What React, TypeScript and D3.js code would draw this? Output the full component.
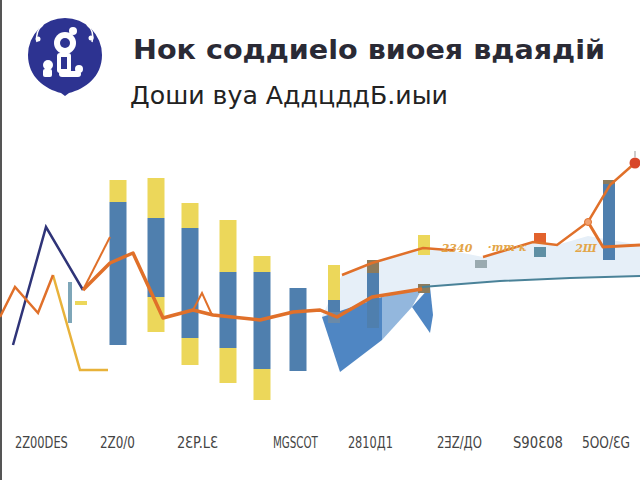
import React from "react";
import * as d3 from "d3";

// floating bars: yellow cap above, blue body, yellow cap below
const barX = [5.9, 7.8, 9.5, 11.4, 13.1, 14.9];
const capHigh = [120, 121, 108.5, 100, 82, 66];
const blueHigh = [109, 101, 96, 74, 74, 66];
const blueLow = [37.5, 61.5, 41, 36, 25.5, 24.5];
const capLow = [37.5, 44, 27.5, 18.5, 10, 24.5];

// small stacked markers on the right
const minorX = [16.7, 16.7, 16.7, 18.65, 18.65, 21.2, 21.2, 24.05, 27, 27, 30.45, 30.45, 4.05, 3.5];
const minorTop = [77.5, 60, 54, 80, 73.5, 92.5, 68, 80, 93.5, 86.5, 120, 118, 59.5, 69];
const minorBottom = [60, 54, 48.5, 73.5, 46, 82.5, 63.5, 76, 88.5, 81.5, 118, 80, 57.5, 48.5];
const minorKind = ["yellow", "blue", "slate", "brown", "blue", "yellow", "brown", "gray", "orange", "teal", "brown", "blue", "yellow", "thin"];

// lines
const navyX = [0.65, 2.3, 4.15];
const navyY = [37.5, 96.5, 65];
const leftOrangeX = [0, 0.75, 1.9, 2.65];
const leftOrangeY = [51.5, 66.5, 53.5, 72.5];
const yellowLineX = [2.65, 4, 5.4];
const yellowLineY = [72.5, 25, 25];
const riseX = [4.15, 5.5];
const riseY = [65, 91.5];
const mainX = [4.15, 5.5, 6.65, 8.15, 9.65, 10.65, 13, 14.65, 16, 16.85, 18.6, 21.1];
const mainY = [65, 78.5, 83.5, 51, 55, 52.5, 50, 54, 55, 51.5, 61.5, 65.5];
const bumpX = [9.65, 10.1, 10.6];
const bumpY = [55, 63.5, 52.5];
const upperAX = [17.1, 18.6, 21.15, 22.4, 22.75];
const upperAY = [72.5, 78.5, 86, 85, 85];
const upperBX = [24.15, 26.65, 27.85, 29.4, 30.5, 31.75];
const upperBY = [81.5, 89, 87.5, 99, 117.5, 128.5];
const branchX = [29.4, 30.15, 32];
const branchY = [99, 86.5, 87.5];
const tealX = [21.1, 25, 28.5, 32];
const tealY = [66.5, 69.5, 71, 72];

// pale band between the upper orange line and the teal line
const bandX = [16.1, 17.1, 18.6, 21.15, 22.4, 24.15, 26.65, 27.85, 29.4, 32];
const bandHigh = [52, 72.5, 78.5, 86, 85, 81.5, 89, 87.5, 92, 87.5];
const bandLow = [51.5, 51.5, 61.5, 66, 67.5, 69, 70.5, 71, 71.5, 72];

// blue wedge pieces
const wedgeDarkX = [16.1, 17, 19.1, 19.1];
const wedgeDarkY = [51.5, 24, 40, 61.5];
const wedgeLightX = [19.1, 19.1, 20.6, 21.1];
const wedgeLightY = [61.5, 40, 56.5, 65.5];
const wedgeTipX = [20.6, 21.5, 21.65, 21.5];
const wedgeTipY = [56.5, 43.5, 52.5, 66.5];

const annotX = [22.85, 25.35, 29.3];
const annotY = [84, 84.5, 84];
const annotText = ["2340", "·тт·к", "2Ш"];

const tickX = [2.07, 5.87, 9.87, 14.77, 18.52, 22.97, 26.9, 30.3];
const tickText = ["2Z00DES", "2Z0/0", "2ƐP.LƐ", "MGSCOT", "2810Д1", "2ƎZ/ДО", "S90Ɛ08", "5OO/ƐG"];
const tickWidth = [53, 35, 41, 45, 45, 45, 50, 48];

const colors: Record<string, string> = {
  yellow: "#ecd75a",
  blue: "#4f7fae",
  slate: "#6b8aa8",
  brown: "#8c7b5c",
  gray: "#9aaab0",
  orange: "#e2622d",
  teal: "#5f8fa4",
  thin: "#7ea6b8",
};

const W = 640;
const H = 480;

export default function App() {
  const x = d3.scaleLinear().domain([0, 32]).range([0, 640]);
  const y = d3.scaleLinear().domain([0, 140]).range([420, 140]);

  const line = (xs: number[], ys: number[]) =>
    d3.line<number>().x((_, i) => x(xs[i])).y((d) => y(d))(ys) || "";
  const poly = (xs: number[], ys: number[]) => line(xs, ys) + "Z";
  const band =
    d3
      .area<number>()
      .x((_, i) => x(bandX[i]))
      .y0((_, i) => y(bandLow[i]))
      .y1((d) => y(d))(bandHigh) || "";

  const barW = x(0.85) - x(0);
  const minorW = x(0.6) - x(0);

  return (
    <svg
      width={W}
      height={H}
      style={{ position: "absolute", left: 0, top: 0, background: "#fff" }}
    >
      <rect width={W} height={H} fill="#fff" />
      <line x1={1} y1={0} x2={1} y2={H} stroke="#555" strokeWidth={2} />

      {/* logo */}
      <g transform="translate(65,55)">
        <path d="M-37,0 A37,37 0 1,1 37,0 C37,22 20,34 4,38 L0,41 L-4,38 C-20,34 -37,22 -37,0Z" fill="#2d3391" />
        <circle cx={0} cy={-12} r={11} fill="#fff" />
        <circle cx={0} cy={-12} r={5} fill="#2d3391" />
        <rect x={-8} y={-2} width={14} height={20} rx={3} fill="#fff" />
        <rect x={-4} y={2} width={6} height={12} fill="#2d3391" />
        <circle cx={-17} cy={10} r={5} fill="#fff" />
        <rect x={-22} y={14} width={9} height={8} rx={2} fill="#fff" />
        <rect x={-6} y={16} width={22} height={6} rx={3} fill="#fff" />
        <circle cx={14} cy={14} r={4} fill="#fff" />
        <circle cx={8} cy={-24} r={4} fill="#fff" />
        <circle cx={-27} cy={-16} r={2.5} fill="#fff" />
        <circle cx={26} cy={-17} r={2.5} fill="#fff" />
        <path d="M-28,-13 Q-30,-24 -22,-30" stroke="#fff" strokeWidth={1.5} fill="none" />
        <path d="M27,-13 Q30,-24 22,-30" stroke="#fff" strokeWidth={1.5} fill="none" />
      </g>

      <text
        x={133}
        y={59}
        fontFamily="DejaVu Sans"
        fontWeight="bold"
        fontSize={26}
        fill="#2a2a35"
        textLength={472}
        lengthAdjust="spacingAndGlyphs"
      >
        Нок соддиеlо виоея вдаядій
      </text>
      <text
        x={130}
        y={104}
        fontFamily="DejaVu Sans Condensed, DejaVu Sans"
        fontSize={24}
        fill="#222"
        textLength={318}
        lengthAdjust="spacingAndGlyphs"
      >
        Дoши вуа AддцддБ.иыи
      </text>

      {/* pale band */}
      <path d={band} fill="#e6eff8" />

      {/* wedge */}
      <path d={poly(wedgeLightX, wedgeLightY)} fill="#93b7dd" />
      <path d={poly(wedgeDarkX, wedgeDarkY)} fill="#4f86c3" />
      <path d={poly(wedgeTipX, wedgeTipY)} fill="#4f86c3" />

      {/* floating bars */}
      {barX.map((bx, i) => (
        <g key={i}>
          <rect x={x(bx) - barW / 2} y={y(capHigh[i])} width={barW} height={y(blueHigh[i]) - y(capHigh[i])} fill={colors.yellow} />
          <rect x={x(bx) - barW / 2} y={y(blueHigh[i])} width={barW} height={y(blueLow[i]) - y(blueHigh[i])} fill={colors.blue} />
          <rect x={x(bx) - barW / 2} y={y(blueLow[i])} width={barW} height={y(capLow[i]) - y(blueLow[i])} fill={colors.yellow} />
        </g>
      ))}

      {minorX.map((mx, i) => {
        const w = minorKind[i] === "thin" ? minorW / 3 : minorW;
        return (
          <rect
            key={i}
            x={x(mx) - w / 2}
            y={y(minorTop[i])}
            width={w}
            height={y(minorBottom[i]) - y(minorTop[i])}
            fill={colors[minorKind[i]]}
          />
        );
      })}

      {/* lines */}
      <path d={line(tealX, tealY)} fill="none" stroke="#4a8298" strokeWidth={2} />
      <path d={line(navyX, navyY)} fill="none" stroke="#2f3478" strokeWidth={2.5} />
      <path d={line(yellowLineX, yellowLineY)} fill="none" stroke="#e8b23a" strokeWidth={2.5} />
      <path d={line(leftOrangeX, leftOrangeY)} fill="none" stroke="#e0702a" strokeWidth={2.5} />
      <path d={line(riseX, riseY)} fill="none" stroke="#e0702a" strokeWidth={2} />
      <path d={line(bumpX, bumpY)} fill="none" stroke="#e0702a" strokeWidth={2} />
      <path d={line(mainX, mainY)} fill="none" stroke="#e0702a" strokeWidth={3.5} strokeLinejoin="round" />
      <path d={line(upperAX, upperAY)} fill="none" stroke="#e0702a" strokeWidth={2.5} />
      <path d={line(upperBX, upperBY)} fill="none" stroke="#e0702a" strokeWidth={2.5} />
      <path d={line(branchX, branchY)} fill="none" stroke="#e0702a" strokeWidth={3} />
      <circle cx={x(29.4)} cy={y(99)} r={3.5} fill="#f0a070" stroke="#e0702a" />
      <circle cx={x(31.75)} cy={y(128.5)} r={5.5} fill="#d8472a" />
      <line x1={x(31.75)} y1={y(128.5) - 6} x2={x(31.75)} y2={y(128.5) - 12} stroke="#999" strokeWidth={1} />

      {annotX.map((ax, i) => (
        <text
          key={i}
          x={x(ax)}
          y={y(annotY[i])}
          textAnchor="middle"
          fontFamily="DejaVu Serif"
          fontStyle="italic"
          fontWeight="bold"
          fontSize={11}
          fill="#e3a548"
        >
          {annotText[i]}
        </text>
      ))}

      {tickX.map((tx, i) => (
        <text
          key={i}
          x={x(tx)}
          y={448}
          textAnchor="middle"
          fontFamily="DejaVu Sans Condensed, DejaVu Sans"
          fontSize={16}
          fill="#444"
          textLength={tickWidth[i]}
          lengthAdjust="spacingAndGlyphs"
        >
          {tickText[i]}
        </text>
      ))}
    </svg>
  );
}
